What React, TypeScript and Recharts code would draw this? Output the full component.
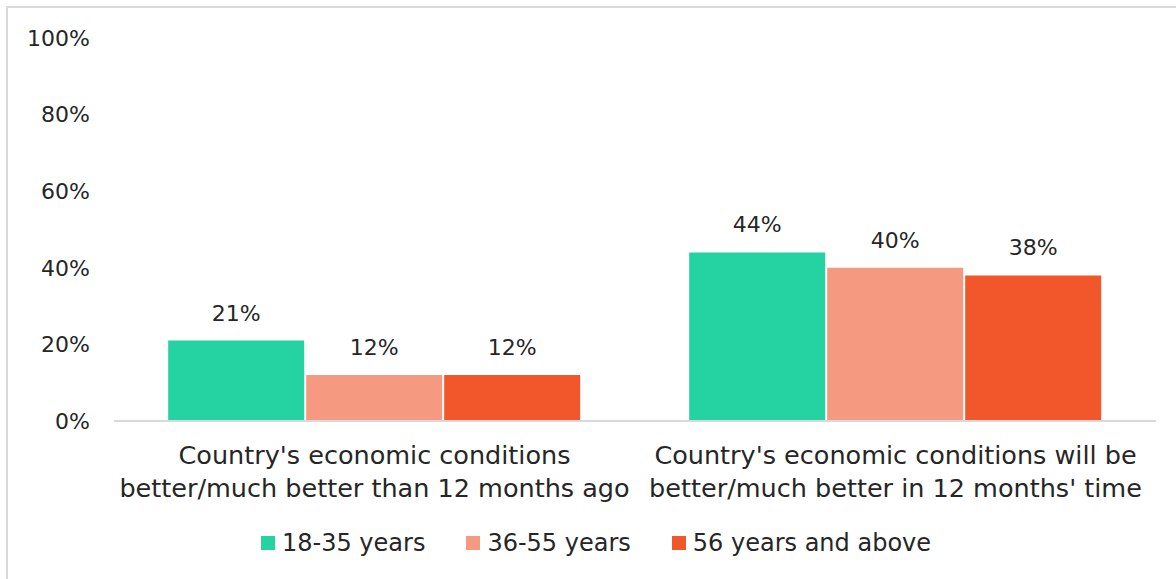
import React from "react";
import { BarChart, Bar, XAxis, YAxis, Legend, LabelList } from "recharts";

const categories = [
  "Country's economic conditions better/much better than 12 months ago",
  "Country's economic conditions will be better/much better in 12 months' time",
];
const categoryLines = [
  ["Country's economic conditions", "better/much better than 12 months ago"],
  ["Country's economic conditions will be", "better/much better in 12 months' time"],
];
const seriesNames = ["18-35 years", "36-55 years", "56 years and above"];
const seriesKeys = ["young", "middle", "older"];
const young = [21, 44];
const middle = [12, 40];
const older = [12, 38];
const yTicks = [0, 20, 40, 60, 80, 100];
const colors = ["#25D2A1", "#F69981", "#F1572B"];

const data = categories.map((c, i) => ({
  category: c,
  young: young[i],
  middle: middle[i],
  older: older[i],
}));

const FONT = "'DejaVu Sans', sans-serif";
const TEXT = "#262626";

const CategoryTick = (props: any) => {
  const { x, y, payload } = props;
  const idx = categories.indexOf(payload.value);
  const lines = categoryLines[idx] || [payload.value];
  return (
    <g>
      {lines.map((ln, i) => (
        <text
          key={i}
          x={x}
          y={y + 43 + i * 33}
          textAnchor="middle"
          fontFamily={FONT}
          fontSize={25.5}
          fill={TEXT}
        >
          {ln}
        </text>
      ))}
    </g>
  );
};

const LegendContent = () => (
  <div
    style={{
      height: 50,
      display: "flex",
      justifyContent: "center",
      alignItems: "flex-start",
      paddingLeft: 28,
      boxSizing: "border-box",
      fontFamily: FONT,
      fontSize: 24,
      color: TEXT,
    }}
  >
    {seriesNames.map((n, i) => (
      <div
        key={n}
        style={{
          display: "flex",
          alignItems: "center",
          lineHeight: "28px",
          marginRight: i < seriesNames.length - 1 ? 41 : 0,
        }}
      >
        <span
          style={{
            display: "inline-block",
            width: 14,
            height: 14,
            background: colors[i],
            marginRight: 7,
          }}
        />
        <span>{n}</span>
      </div>
    ))}
  </div>
);

export default function App() {
  return (
    <div
      style={{
        position: "fixed",
        left: 6,
        top: 6,
        borderTop: "2px solid #d9d9d9",
        borderLeft: "2px solid #d9d9d9",
        width: 1170,
        height: 573,
        background: "#fff",
      }}
    >
      <BarChart
        width={1168}
        height={571}
        data={data}
        margin={{ top: 30, right: 20, left: 0, bottom: 0 }}
        barGap={2}
        barCategoryGap="10.4%"
      >
        <XAxis
          dataKey="category"
          height={108}
          tick={<CategoryTick />}
          tickLine={false}
          tickSize={0}
          tickMargin={0}
          axisLine={{ stroke: "#d9d9d9", strokeWidth: 2 }}
          interval={0}
        />
        <YAxis
          width={106}
          domain={[0, 100]}
          ticks={yTicks}
          tickFormatter={(v: number) => `${v}%`}
          axisLine={false}
          tickLine={false}
          tickSize={0}
          tickMargin={24}
          tick={{ fontFamily: FONT, fontSize: 22, fill: TEXT }}
        />
        <Legend verticalAlign="bottom" content={<LegendContent />} />
        {seriesKeys.map((k, i) => (
          <Bar key={k} dataKey={k} name={seriesNames[i]} fill={colors[i]} isAnimationActive={false}>
            <LabelList
              dataKey={k}
              position="top"
              offset={20}
              formatter={(v: any) => `${v}%`}
              style={{ fontFamily: FONT, fontSize: 22, fill: TEXT }}
            />
          </Bar>
        ))}
      </BarChart>
    </div>
  );
}
